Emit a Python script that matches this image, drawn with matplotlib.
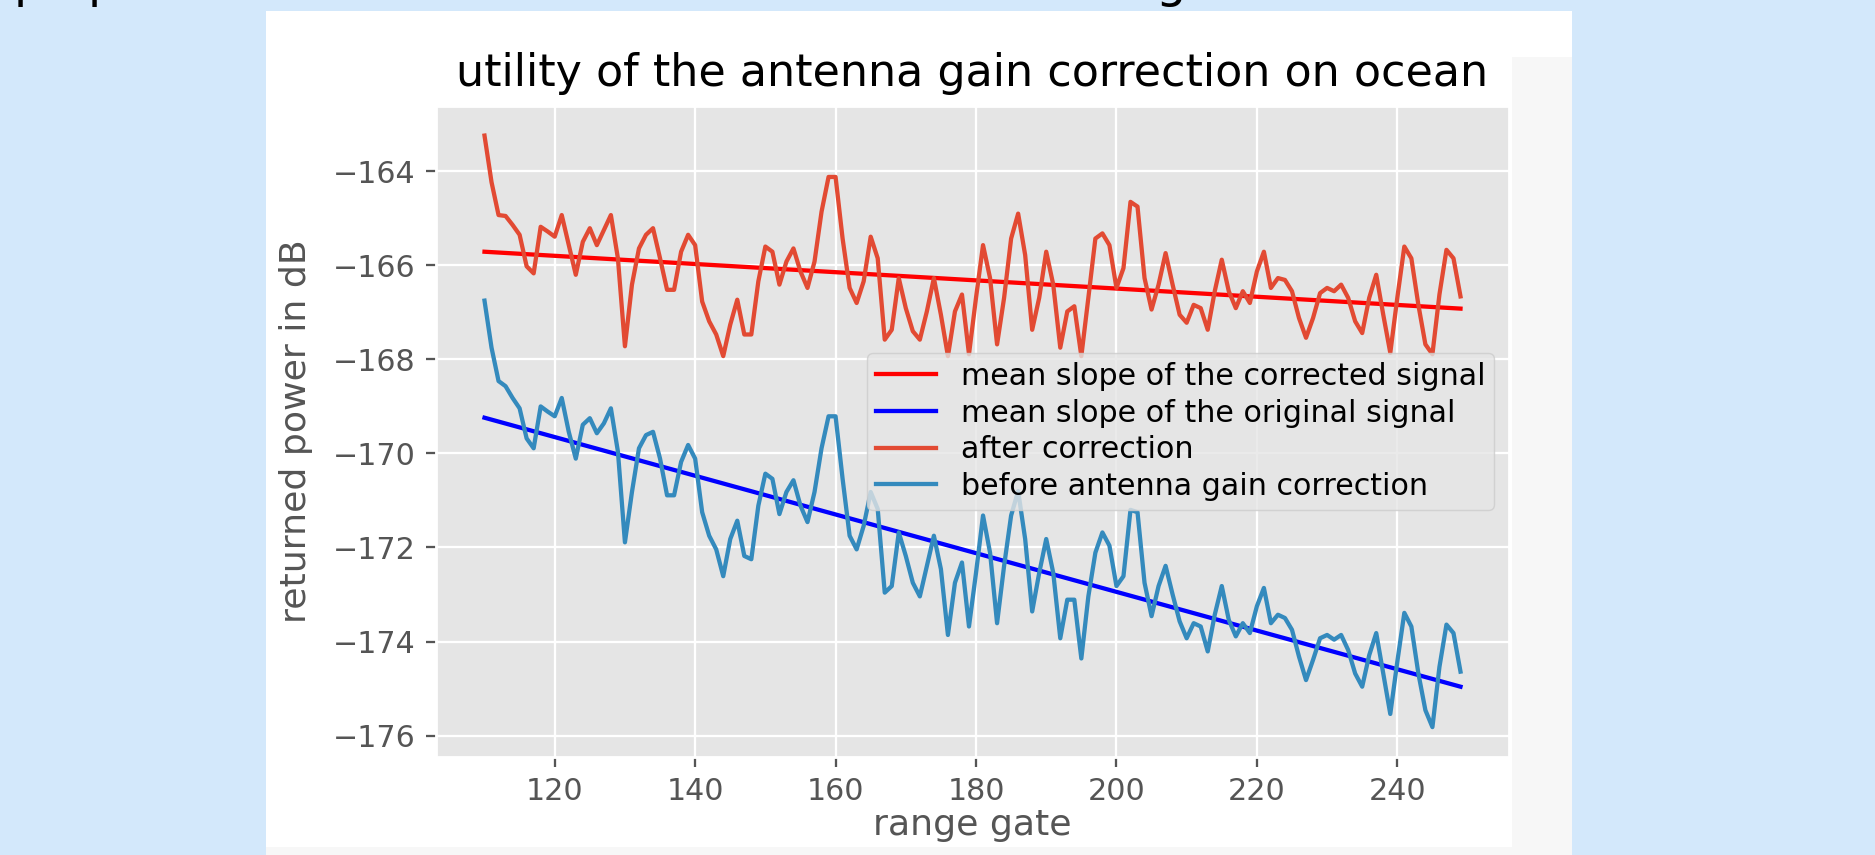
import numpy as np
import matplotlib
matplotlib.use("Agg")
import matplotlib.pyplot as plt
from matplotlib.patches import Rectangle

plt.style.use('ggplot')
plt.rcParams['font.size'] = 10.6
plt.rcParams['axes.titlesize'] = 15.6

# range gates 110 .. 249
range_gate = np.arange(110, 250)

after_correction = [
    -163.24, -164.23, -164.93, -164.95, -165.14, -165.35, -166.02, -166.17, -165.18, -165.28,
    -165.39, -164.93, -165.57, -166.20, -165.50, -165.21, -165.57, -165.25, -164.93, -165.85,
    -167.72, -166.41, -165.64, -165.35, -165.21, -165.85, -166.52, -166.52, -165.71, -165.35,
    -165.57, -166.77, -167.19, -167.47, -167.93, -167.26, -166.73, -167.47, -167.47, -166.34,
    -165.60, -165.71, -166.41, -165.92, -165.64, -166.13, -166.48, -165.92, -164.86, -164.12,
    -164.12, -165.43, -166.48, -166.80, -166.34, -165.39, -165.85, -167.58, -167.37, -166.27,
    -166.91, -167.40, -167.58, -166.98, -166.27, -167.05, -167.93, -166.98, -166.62, -167.89,
    -166.69, -165.57, -166.27, -167.68, -166.69, -165.43, -164.90, -165.78, -167.37, -166.69,
    -165.71, -166.41, -167.75, -166.98, -166.87, -167.93, -166.69, -165.43, -165.32, -165.57,
    -166.48, -166.06, -164.65, -164.75, -166.27, -166.94, -166.41, -165.74, -166.41, -167.05,
    -167.22, -166.84, -166.91, -167.37, -166.55, -165.88, -166.55, -166.91, -166.55, -166.80,
    -166.13, -165.71, -166.48, -166.27, -166.31, -166.55, -167.12, -167.54, -167.12, -166.59,
    -166.48, -166.55, -166.41, -166.69, -167.19, -167.44, -166.69, -166.20, -167.05, -167.86,
    -166.69, -165.60, -165.85, -166.84, -167.68, -167.89, -166.62, -165.67, -165.85, -166.66,
]

before_correction = [
    -166.75, -167.75, -168.46, -168.57, -168.82, -169.04, -169.68, -169.89, -169.00, -169.11,
    -169.21, -168.82, -169.54, -170.11, -169.39, -169.25, -169.57, -169.36, -169.04, -169.96,
    -171.89, -170.82, -169.89, -169.61, -169.54, -170.11, -170.89, -170.89, -170.18, -169.82,
    -170.11, -171.25, -171.75, -172.04, -172.61, -171.82, -171.43, -172.18, -172.25, -171.11,
    -170.43, -170.54, -171.29, -170.82, -170.57, -171.11, -171.46, -170.82, -169.89, -169.21,
    -169.21, -170.54, -171.75, -172.04, -171.54, -170.82, -171.18, -172.96, -172.82, -171.68,
    -172.18, -172.75, -173.04, -172.39, -171.75, -172.46, -173.86, -172.75, -172.32, -173.68,
    -172.54, -171.32, -172.11, -173.61, -172.39, -171.32, -170.80, -171.82, -173.36, -172.54,
    -171.82, -172.54, -173.93, -173.11, -173.11, -174.36, -173.04, -172.11, -171.68, -171.96,
    -172.82, -172.61, -171.20, -171.25, -172.75, -173.46, -172.82, -172.39, -173.00, -173.57,
    -173.93, -173.61, -173.68, -174.21, -173.43, -172.82, -173.54, -173.89, -173.61, -173.82,
    -173.25, -172.86, -173.61, -173.43, -173.50, -173.75, -174.32, -174.82, -174.39, -173.93,
    -173.86, -173.96, -173.86, -174.18, -174.68, -174.96, -174.29, -173.82, -174.68, -175.54,
    -174.43, -173.39, -173.68, -174.68, -175.46, -175.82, -174.54, -173.64, -173.82, -174.64,
]

# end points of the fitted mean slopes
slope_gates = [110, 249]
slope_corrected = [-165.71, -166.92]
slope_original = [-169.24, -174.96]

W, H = 1875, 855
fig = plt.figure(figsize=(W / 205, H / 205), dpi=205, facecolor='#D3E8FB')

# white screenshot panel with its light grey margins
fig.add_artist(Rectangle((266 / W, 0), (1572 - 266) / W, 1 - 11 / H,
                         transform=fig.transFigure, facecolor='white', edgecolor='none', zorder=0))
fig.add_artist(Rectangle((1512 / W, 0), (1572 - 1512) / W, 1 - 57 / H,
                         transform=fig.transFigure, facecolor='#F7F7F7', edgecolor='none', zorder=0))
fig.add_artist(Rectangle((266 / W, 0), (1572 - 266) / W, 8 / H,
                         transform=fig.transFigure, facecolor='#F7F7F7', edgecolor='none', zorder=0))

# cut-off slide heading above the panel (only descenders show)
for xp, ch in [(14, 'p'), (88, 'p'), (1155, 'g')]:
    fig.text(xp / W, 1 + 3 / H, ch, fontsize=17, color='black', va='baseline', ha='left')

ax = fig.add_axes([435.7 / W, 1 - 756.7 / H, (1509.3 - 435.7) / W, (756.7 - 106) / H])

ax.plot(slope_gates, slope_corrected, color='red', label='mean slope of the corrected signal')
ax.plot(slope_gates, slope_original, color='blue', label='mean slope of the original signal')
ax.plot(range_gate, after_correction, label='after correction')
ax.plot(range_gate, before_correction, label='before antenna gain correction')

ax.set_title('utility of the antenna gain correction on ocean', pad=7)
ax.set_xlabel('range gate', labelpad=1)
ax.set_ylabel('returned power in dB', labelpad=7)
ax.legend(loc='center right', labelspacing=0.25, borderpad=0.3)

fig.savefig('out.png', dpi=205, facecolor=fig.get_facecolor())
